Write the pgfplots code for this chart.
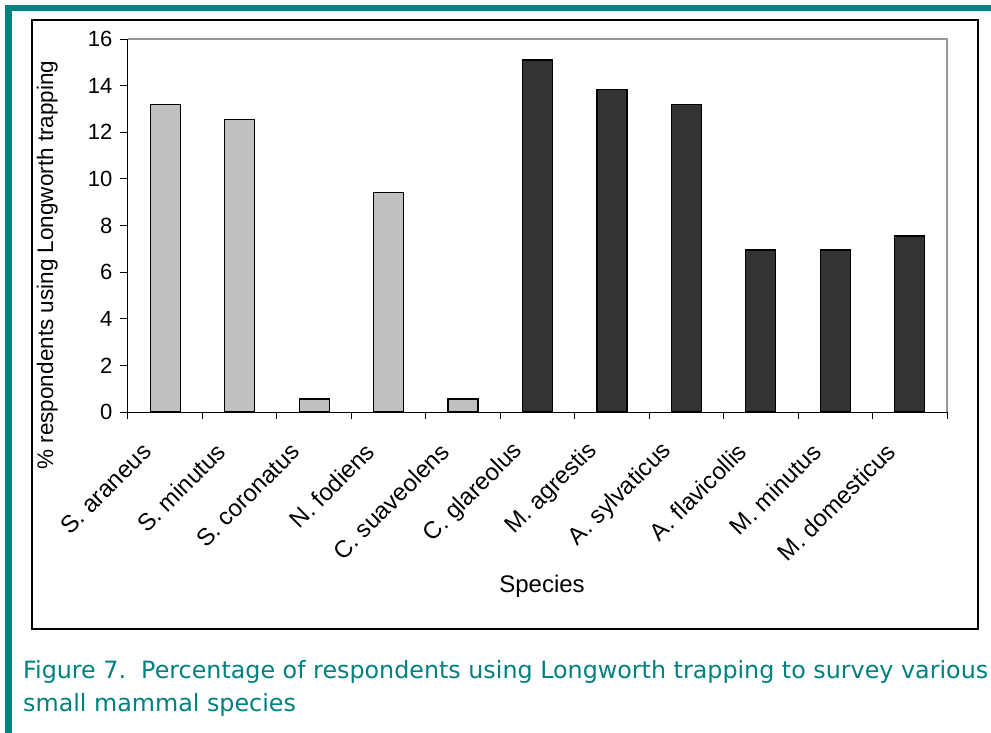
\documentclass[border=0pt]{standalone}
\usepackage{fontspec}
\setmainfont{Liberation Sans}
\newfontfamily\capfont{DejaVu Sans}
\usepackage{pgfplots}
\pgfplotsset{compat=1.18}
\definecolor{tealc}{RGB}{0,128,128}
\definecolor{lightbar}{RGB}{192,192,192}
\definecolor{darkbar}{RGB}{51,51,51}
\definecolor{frameg}{RGB}{150,150,150}
\begin{document}
\begin{tikzpicture}[x=1pt,y=1pt]
\path[use as bounding box] (0,0) rectangle (991,-733);
\fill[white] (0,0) rectangle (991,-733);
\fill[tealc] (5,-5) rectangle (991,-11);
\fill[tealc] (5,-5) rectangle (11.5,-733);
\draw[black, line width=1.3pt] (32,-20) rectangle (978,-629);
\begin{axis}[
  at={(128pt,-412pt)}, anchor=south west,
  scale only axis, width=819pt, height=373pt,
  xmin=-0.5, xmax=10.5, ymin=0, ymax=16,
  ytick={0,2,...,16},
  xtick={0,...,10},
  xticklabels={S. araneus, S. minutus, S. coronatus, N. fodiens, C. suaveolens, C. glareolus, M. agrestis, A. sylvaticus, A. flavicollis, M. minutus, M. domesticus},
  minor xtick={-0.5,0.5,...,10.5},
  axis x line*=bottom, axis y line*=left,
  axis line style={black, line width=1pt, -},
  tick align=outside,
  major tick length=8pt, minor tick length=7pt,
  tick style={black, line width=1pt},
  major x tick style={draw=none},
  /pgf/number format/assume math mode=true,
  yticklabel style={font=\fontsize{22}{26}\selectfont, xshift=-4pt},
  xticklabel style={font=\fontsize{24}{28}\selectfont, xshift=-16pt, yshift=-25pt, rotate=45, anchor=east},
  clip=false,
]
\addplot[ybar, bar width=30pt, bar shift=0pt, fill=lightbar, draw=black, line width=1.2pt]
  coordinates {(0,13.2) (1,12.55) (2,0.56) (3,9.4) (4,0.56)};
\addplot[ybar, bar width=30pt, bar shift=0pt, fill=darkbar, draw=black, line width=1.2pt]
  coordinates {(5,15.1) (6,13.85) (7,13.2) (8,6.95) (9,6.95) (10,7.55)};
\draw[frameg, line width=1.5pt] (rel axis cs:0,1) -- (rel axis cs:1,1) -- (rel axis cs:1,0);
\end{axis}
\node[rotate=90, anchor=base, font=\fontsize{22.5}{27}\selectfont, inner sep=0] at (53,-265) {\% respondents using Longworth trapping};
\node[anchor=base, font=\fontsize{24}{28}\selectfont, inner sep=0] at (542,-592) {Species};
\node[anchor=base west, text=tealc, font=\capfont\fontsize{23.8}{28}\selectfont, inner sep=0] at (23,-678) {Figure 7.\ \ Percentage of respondents using Longworth trapping to survey various};
\node[anchor=base west, text=tealc, font=\capfont\fontsize{23.8}{28}\selectfont, inner sep=0] at (23,-711) {small mammal species};
\end{tikzpicture}
\end{document}
